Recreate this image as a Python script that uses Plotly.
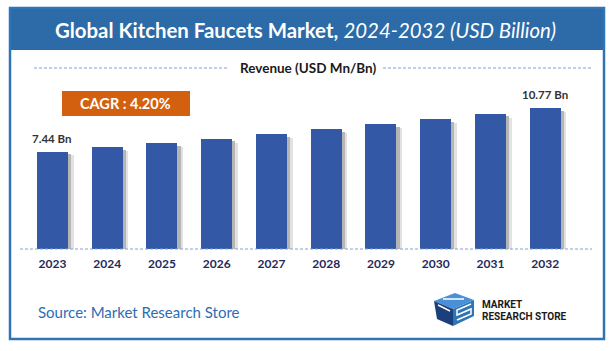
import plotly.graph_objects as go

years = ["2023", "2024", "2025", "2026", "2027", "2028", "2029", "2030", "2031", "2032"]
revenue = [7.44, 7.75, 8.08, 8.42, 8.77, 9.14, 9.52, 9.92, 10.34, 10.77]
label_years = ["2023", "2032"]
label_texts = ["7.44 Bn", "10.77 Bn"]

W, H = 614, 351
BAR_W = 0.567
FONT = "Lato"

def px(x):
    return x / W

def py(y):
    return 1 - y / H

fig = go.Figure()

# soft shadow on the right side of each bar
fig.add_trace(go.Bar(x=years, y=[v - 0.2 for v in revenue], width=0.06,
                     offset=BAR_W / 2,
                     marker=dict(color="rgba(90,90,90,0.45)", line=dict(width=0)),
                     hoverinfo="skip", showlegend=False))
fig.add_trace(go.Bar(x=years, y=[v - 0.3 for v in revenue], width=0.045,
                     offset=BAR_W / 2 + 0.06,
                     marker=dict(color="rgba(140,140,140,0.25)", line=dict(width=0)),
                     hoverinfo="skip", showlegend=False))
fig.add_trace(go.Bar(x=years, y=revenue, width=BAR_W,
                     marker=dict(color="#3358A6", line=dict(width=0)),
                     showlegend=False))

annotations = []
for yr, t in zip(label_years, label_texts):
    i = years.index(yr)
    annotations.append(dict(x=i, y=revenue[i], xref="x", yref="y", text=t, showarrow=False,
                            yanchor="bottom", yshift=5,
                            font=dict(family=FONT, size=11.5, color="#333333", weight="bold")))

# title
annotations.append(dict(x=px(305.5), y=py(30), xref="paper", yref="paper", showarrow=False,
                        xanchor="center", yanchor="middle",
                        text="<b>Global Kitchen Faucets Market,</b> <i>2024-2032 (USD Billion)</i>",
                        font=dict(family=FONT, size=20.4, color="white")))
# subtitle
annotations.append(dict(x=px(308), y=py(67.5), xref="paper", yref="paper", showarrow=False,
                        xanchor="center", yanchor="middle",
                        text="Revenue (USD Mn/Bn)",
                        font=dict(family=FONT, size=13.5, color="#1a1a1a", weight="bold")))
# CAGR
annotations.append(dict(x=px(125), y=py(103.5), xref="paper", yref="paper", showarrow=False,
                        xanchor="center", yanchor="middle",
                        text="<b>CAGR : 4.20%</b>",
                        font=dict(family=FONT, size=14.5, color="white")))
# source
annotations.append(dict(x=px(36), y=py(311.5), xref="paper", yref="paper", showarrow=False,
                        xanchor="left", yanchor="middle",
                        text="Source: Market Research Store",
                        font=dict(family=FONT, size=15, color="#2E6DB4")))
# logo text
annotations.append(dict(x=px(480), y=py(304), xref="paper", yref="paper", showarrow=False,
                        xanchor="left", yanchor="middle", align="left",
                        text="<b>MARKET</b>",
                        font=dict(family="Roboto", size=10, color="#1a1a1a")))
annotations.append(dict(x=px(480), y=py(316), xref="paper", yref="paper", showarrow=False,
                        xanchor="left", yanchor="middle", align="left",
                        text="<b>RESEARCH STORE</b>",
                        font=dict(family="Roboto", size=10, color="#1a1a1a")))

dash = "3px,2px"
shapes = [
    # title banner
    dict(type="rect", xref="paper", yref="paper", x0=px(9), x1=px(605), y0=py(50), y1=py(7),
         fillcolor="#2C6AA8", line=dict(width=0), layer="below"),
    # outer frame
    dict(type="rect", xref="paper", yref="paper", x0=px(10), x1=px(604), y0=py(339), y1=py(8),
         fillcolor="rgba(0,0,0,0)", line=dict(color="#2E75B6", width=2.5)),
    # subtitle dashes
    dict(type="line", xref="paper", yref="paper", x0=px(34), x1=px(228), y0=py(68), y1=py(68),
         line=dict(color="#7FA3D6", width=1, dash=dash)),
    dict(type="line", xref="paper", yref="paper", x0=px(383), x1=px(592), y0=py(68), y1=py(68),
         line=dict(color="#7FA3D6", width=1, dash=dash)),
    # baseline
    dict(type="line", xref="paper", yref="paper", x0=px(20), x1=px(592), y0=py(249), y1=py(249),
         line=dict(color="#7FA3D6", width=1, dash=dash)),
    # CAGR box
    dict(type="rect", xref="paper", yref="paper", x0=px(62), x1=px(190), y0=py(116), y1=py(91),
         fillcolor="#D2600F", line=dict(width=0), layer="below"),
    # logo (approximate isometric cube)
    dict(type="path", xref="paper", yref="paper",
         path=f"M {px(434)} {py(301)} L {px(455)} {py(293)} L {px(474)} {py(300)} L {px(453)} {py(309)} Z",
         fillcolor="#4A90D9", line=dict(width=0)),
    dict(type="path", xref="paper", yref="paper",
         path=f"M {px(434)} {py(301)} L {px(453)} {py(309)} L {px(453)} {py(326)} L {px(437)} {py(319)} Z",
         fillcolor="#1B3F7A", line=dict(width=0)),
    dict(type="path", xref="paper", yref="paper",
         path=f"M {px(453)} {py(309)} L {px(474)} {py(300)} L {px(474)} {py(316)} L {px(453)} {py(326)} Z",
         fillcolor="#2E75B6", line=dict(width=0)),
    dict(type="path", xref="paper", yref="paper",
         path=f"M {px(471)} {py(304)} L {px(457)} {py(310)} L {px(457)} {py(315)} L {px(471)} {py(309)} L {px(471)} {py(314)} L {px(457)} {py(320)}",
         fillcolor="rgba(0,0,0,0)", line=dict(color="white", width=1.5)),
    dict(type="path", xref="paper", yref="paper",
         path=f"M {px(438)} {py(305)} L {px(450)} {py(311)} M {px(443)} {py(299)} L {px(464)} {py(299)}",
         fillcolor="rgba(0,0,0,0)", line=dict(color="white", width=1.5)),
]

fig.update_layout(
    width=W, height=H, margin=dict(l=0, r=0, t=0, b=0),
    paper_bgcolor="white", plot_bgcolor="white",
    barmode="overlay", bargap=0,
    annotations=annotations, shapes=shapes,
    xaxis=dict(domain=[px(25.1), px(572.6)], type="category", range=[-0.5, 9.5],
               showgrid=False, showline=False, zeroline=False, ticks="",
               ticklabelstandoff=6,
               tickfont=dict(family=FONT, size=12, color="#1F2A5A", weight="bold")),
    yaxis=dict(domain=[py(249), py(92.4)], range=[0, 12], visible=False, showgrid=False),
)

fig.write_html("out.html")
